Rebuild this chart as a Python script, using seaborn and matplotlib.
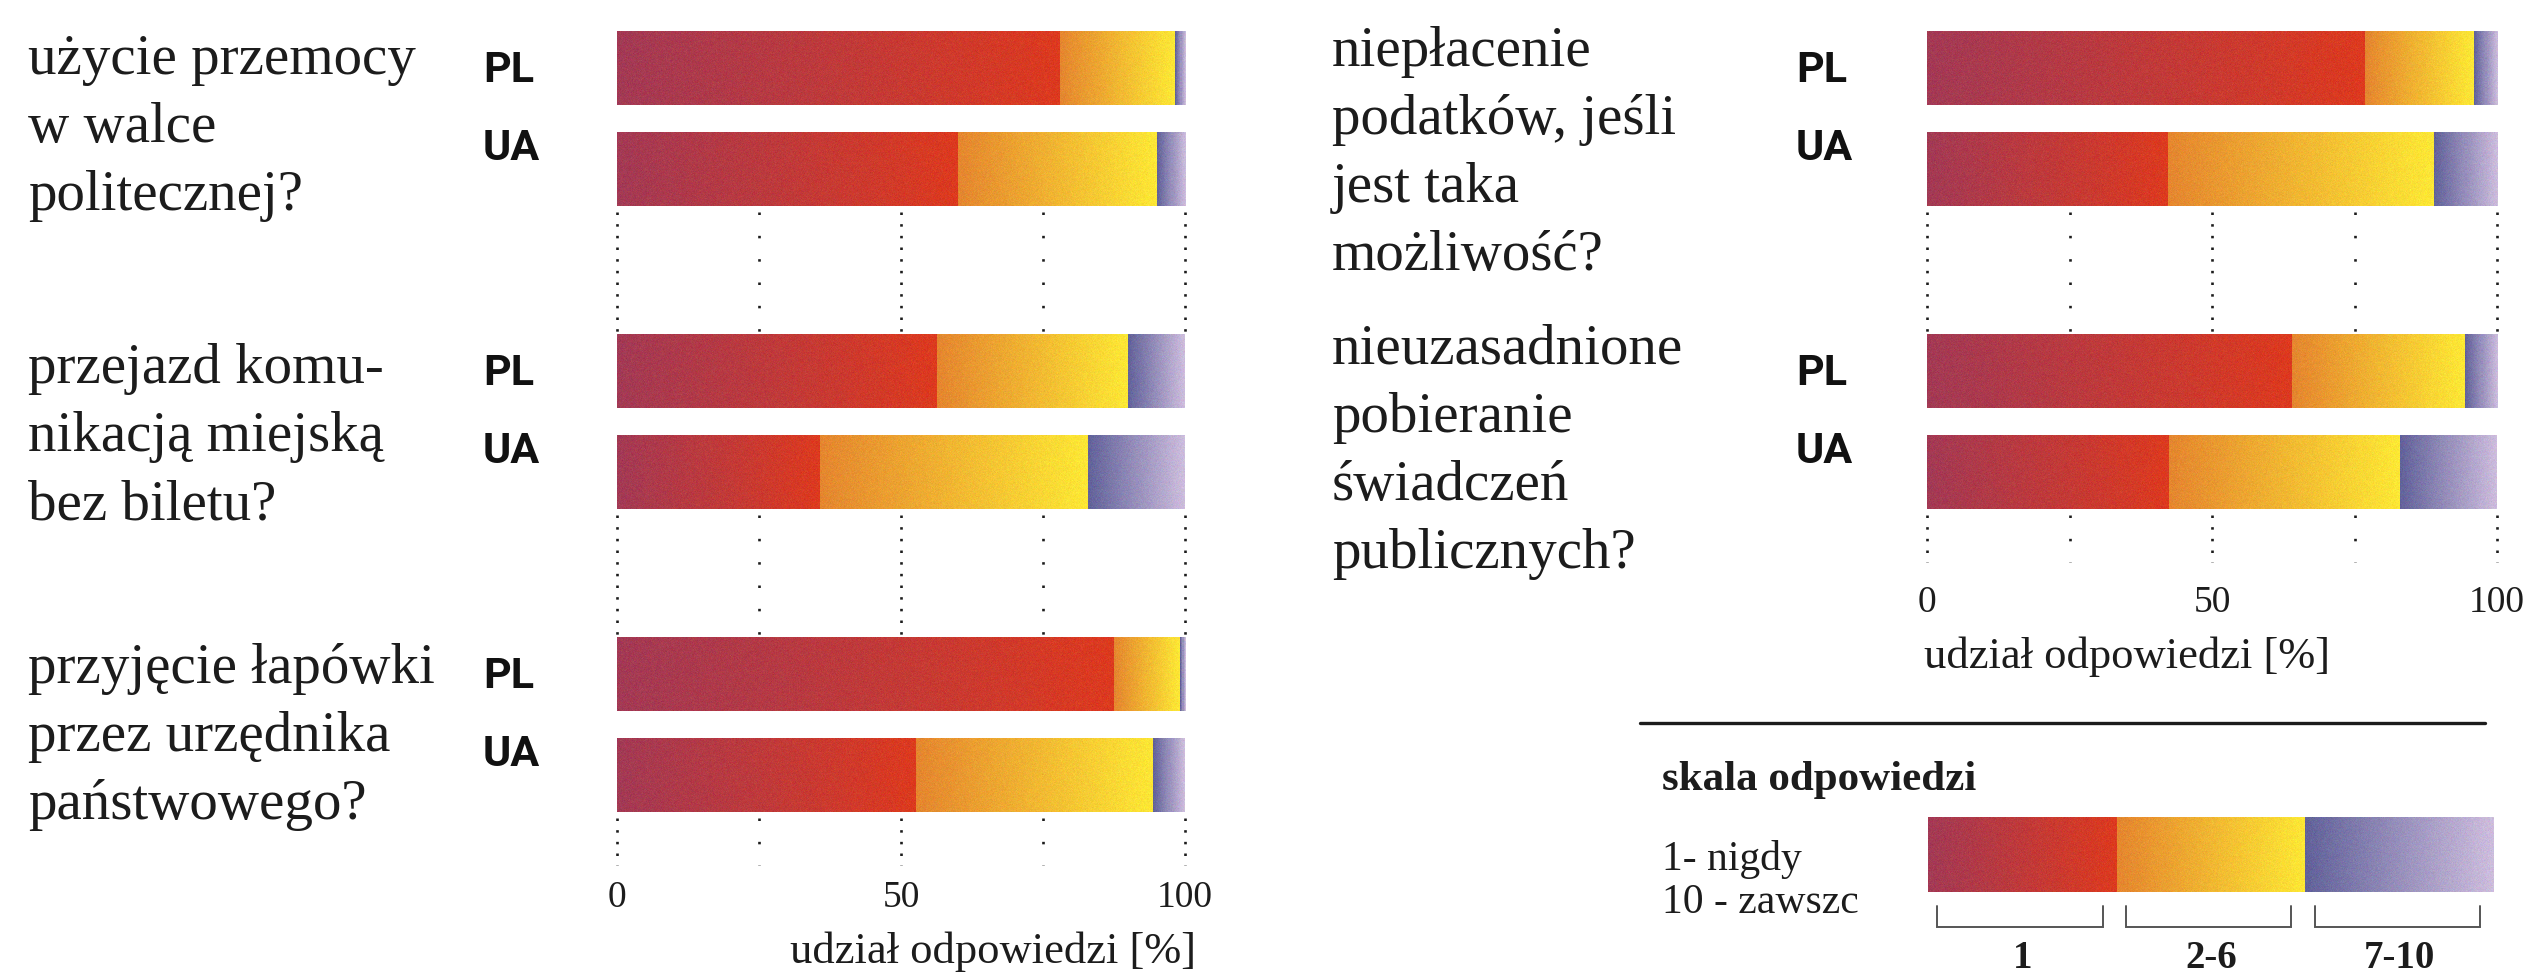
import numpy as np
import pandas as pd
import matplotlib
matplotlib.use("Agg")
import matplotlib.pyplot as plt
import matplotlib.transforms as mtrans
from matplotlib.lines import Line2D
from matplotlib.colors import to_rgb
import seaborn as sns

# ---------------- data ----------------
left_questions = [
    ["użycie przemocy", "w walce", "politecznej?"],
    ["przejazd komu-", "nikacją miejską", "bez biletu?"],
    ["przyjęcie łapówki", "przez urzędnika", "państwowego?"],
]
right_questions = [
    ["niepłacenie", "podatków, jeśli", "jest taka", "możliwość?"],
    ["nieuzasadnione", "pobieranie", "świadczeń", "publicznych?"],
]
countries = ["PL", "UA"]
# shares (%) per bar, order: Q1 PL, Q1 UA, Q2 PL, Q2 UA, ...
left_never = [78.0, 60.0, 56.3, 35.7, 87.5, 52.6]
left_mid = [20.2, 35.0, 33.7, 47.3, 11.6, 41.8]
left_often = [1.8, 5.0, 10.0, 17.0, 0.9, 5.6]
right_never = [76.8, 42.3, 64.0, 42.5]
right_mid = [19.1, 46.6, 30.3, 40.5]
right_often = [4.1, 11.1, 5.7, 17.0]
x_ticks = [0, 50, 100]
grid_marks = [0, 25, 50, 75, 100]
x_label = "udział odpowiedzi [%]"
scale_title = "skala odpowiedzi"
scale_desc = ["1- nigdy", "10 - zawszc"]
scale_groups = ["1", "2-6", "7-10"]

# ---------------- style ----------------
sns.set_style("white")
plt.rcParams["font.family"] = ["Liberation Serif", "DejaVu Serif"]
plt.rcParams["lines.scale_dashes"] = False
SERIF = ["Liberation Serif", "DejaVu Serif"]
SANS = ["Roboto", "DejaVu Sans"]
INK = "#1c1c1c"
RED = ("#A33A55", "#DD3A1F")
YEL = ("#E5862F", "#FDE835")
PUR = ("#62629A", "#CDBDDD")

W, H = 2531, 976
fig = plt.figure(figsize=(W / 100, H / 100), dpi=100)
fig.patch.set_facecolor("white")

ROW_PX = 101.0   # pixels per category unit
TOP_PX = 68.0    # centre of first bar
BAR_H = 0.73
rng = np.random.default_rng(3)


def ftext(x, y, s, **kw):
    return fig.text(x / W, 1 - y / H, s, **kw)


def grad_img(c0, c1, ncol, nrow):
    t = np.linspace(0, 1, ncol)[None, :, None]
    img = (1 - t) * np.array(to_rgb(c0)) + t * np.array(to_rgb(c1))
    img = np.repeat(img, nrow, axis=0)
    img = img + rng.normal(0, 0.022, img.shape)
    return np.clip(img, 0, 1)


def make_axes(x0, x1, ybot):
    ax = fig.add_axes([x0 / W, 1 - ybot / H, (x1 - x0) / W, ybot / H])
    return ax, ((ybot - TOP_PX) / ROW_PX, -TOP_PX / ROW_PX)


def draw_panel(ax, ylims, never, mid, often, nq, tick_pad):
    pos = [3 * i + k for i in range(nq) for k in (0, 1)]
    never = np.array(never); mid = np.array(mid); often = np.array(often)
    segments = [(never, np.zeros_like(never), RED),
                (mid, never, YEL),
                (often, never + mid, PUR)]
    for vals, left, cols in segments:
        n0 = len(ax.patches)
        df = pd.DataFrame({"pos": pos, "val": vals})
        sns.barplot(data=df, x="val", y="pos", orient="h", native_scale=True,
                    width=BAR_H, left=left, color=cols[1], saturation=1,
                    errorbar=None, linewidth=0, ax=ax)
        for p in ax.patches[n0:]:
            x0, y0 = p.get_x(), p.get_y()
            w, h = p.get_width(), p.get_height()
            if w <= 0:
                continue
            ncol = max(2, int(w * 5.7))
            ax.imshow(grad_img(cols[0], cols[1], ncol, 74),
                      extent=(x0, x0 + w, y0 + h, y0), aspect="auto",
                      interpolation="nearest", zorder=3)
    # dotted guide lines in the gaps between questions
    for i in range(nq):
        ys = 3 * i + 1 + BAR_H / 2 + 0.06
        ye = 3 * (i + 1) - BAR_H / 2 if i < nq - 1 else ylims[0]
        for g in grid_marks:
            dash = (0, (1.8, 6.6)) if g % 50 == 0 else (0, (1.8, 15.0))
            ax.vlines(g, ys, ye, colors=INK, linewidth=1.9,
                      linestyles=[dash], zorder=1, clip_on=False)
    ax.set_xlim(0, 100)
    ax.set_ylim(*ylims)
    ax.set_xticks(x_ticks)
    ax.set_xticklabels([str(t) for t in x_ticks], fontsize=27,
                       fontfamily=SERIF, color=INK)
    ax.set_yticks([])
    ax.tick_params(axis="x", length=0, pad=tick_pad)
    ax.set_xlabel("")
    ax.set_ylabel("")
    for s in ax.spines.values():
        s.set_visible(False)
    ax.patch.set_alpha(0)


def draw_labels(ax, questions, x_text, x_cc, first_baselines):
    for i, lines in enumerate(questions):
        for k, line in enumerate(lines):
            ftext(x_text, first_baselines[i] + k * 68, line, fontsize=41,
                  fontfamily=SERIF, color=INK, va="baseline", ha="left")
    tr = mtrans.blended_transform_factory(fig.transFigure, ax.transData)
    for i in range(len(questions)):
        for k, c in enumerate(countries):
            yb = 3 * i + k + (0.14 if k == 0 else -0.09)
            fig.text(x_cc / W, yb, c, transform=tr, fontsize=31,
                     fontfamily=SANS, fontweight="bold", color="#111111",
                     va="baseline", ha="left")


# left panel
axL, limL = make_axes(617, 1185, 865)
draw_panel(axL, limL, left_never, left_mid, left_often, 3, tick_pad=11)
draw_labels(axL, left_questions, 28, 483, [74, 383, 683])
ftext(1196, 963, x_label, fontsize=32, fontfamily=SERIF, color=INK,
      ha="right", va="baseline")

# right panel
axR, limR = make_axes(1927, 2497, 562)
draw_panel(axR, limR, right_never, right_mid, right_often, 2, tick_pad=17)
draw_labels(axR, right_questions, 1332, 1796, [66, 364])
ftext(1924, 668, x_label, fontsize=32, fontfamily=SERIF, color=INK,
      ha="left", va="baseline")

# ---------------- legend (response scale) ----------------
fig.add_artist(Line2D([1640 / W, 2485 / W], [1 - 723 / H, 1 - 723 / H],
                      color=INK, linewidth=2.4))
ftext(1662, 790, scale_title, fontsize=31, fontfamily=SERIF,
      fontweight="bold", color=INK, va="baseline")
ftext(1662, 870, scale_desc[0], fontsize=30, fontfamily=SERIF, color=INK,
      va="baseline")
ftext(1662, 913, scale_desc[1], fontsize=30, fontfamily=SERIF, color=INK,
      va="baseline")

axG = fig.add_axes([1928 / W, 0, (2494 - 1928) / W, (976 - 800) / H])
ng = len(scale_groups)
legend_cols = [RED, YEL, PUR]
for i, lab in enumerate(scale_groups):
    c = legend_cols[i]
    axG.imshow(grad_img(c[0], c[1], 190, 75), extent=(i, i + 1, 892, 817),
               aspect="auto", interpolation="nearest", zorder=3)
    xa, xb = i + 0.05, i + 0.925
    axG.plot([xa, xa, xb, xb], [906, 927, 927, 906], color="#555555",
             linewidth=1.4, solid_joinstyle="miter", zorder=2)
    axG.text(i + 0.5, 968, lab, ha="center", va="baseline", fontsize=28,
             fontfamily=SERIF, fontweight="bold", color=INK)
axG.set_xlim(0, ng)
axG.set_ylim(976, 800)
axG.set_axis_off()

fig.savefig("out.png", dpi=100, facecolor="white")
